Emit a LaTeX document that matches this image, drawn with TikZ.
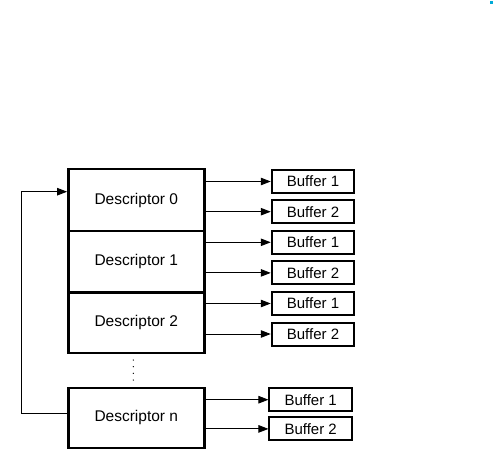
\documentclass[tikz,border=0pt]{standalone}
\usepackage{fontspec}
\setmainfont{Liberation Sans}
\usetikzlibrary{arrows.meta}
\definecolor{dotcyan}{RGB}{0,170,215}
\begin{document}
\begin{tikzpicture}[x=1pt,y=-1pt,
  desc/.style={draw,line width=2.4pt,minimum width=136pt,inner sep=0pt,font=\fontsize{15.5}{18}\selectfont},
  buf/.style={draw,line width=2pt,minimum width=82.5pt,minimum height=23pt,inner sep=0pt,font=\fontsize{15}{18}\selectfont},
  link/.style={line width=0.9pt,-{Triangle[length=10pt,width=7.5pt]}}
]
\useasboundingbox (0,0) rectangle (495,465);
\fill[dotcyan] (490,1.5) rectangle (493,4.5);
% descriptors
\node[desc,minimum height=61.4pt] (d0) at (136.3,200) {Descriptor 0};
\node[desc,minimum height=61.6pt] (d1) at (136.3,261.5) {Descriptor 1};
\node[desc,minimum height=60.4pt] (d2) at (136.3,322.5) {Descriptor 2};
\node[desc,minimum height=60pt] (dn) at (136.3,417.7) {Descriptor n};
% buffers
\node[buf] (b01) at (313,181.5) {Buffer 1};
\node[buf] (b02) at (313,211.7) {Buffer 2};
\node[buf] (b11) at (313,242.3) {Buffer 1};
\node[buf] (b12) at (313,272.9) {Buffer 2};
\node[buf] (b21) at (313,303.5) {Buffer 1};
\node[buf] (b22) at (313,334) {Buffer 2};
\node[buf] (bn1) at (310.7,399.7) {Buffer 1};
\node[buf] (bn2) at (310.7,428.9) {Buffer 2};
% arrows
\foreach \d/\b in {d0/b01,d0/b02,d1/b11,d1/b12,d2/b21,d2/b22,dn/bn1,dn/bn2}
  \draw[link] (\d.east |- \b.west) -- (\b.west);
% dots
\coordinate (dots) at (133.3,360);
\foreach \k in {0,6.7,13.3,20}
  \fill ([yshift=-\k pt]dots) circle (0.7pt);
% loop back
\coordinate (lb) at (21,413.3);
\coordinate (lt) at (21,191.7);
\draw[link] (dn.west |- lb) -- (lb) -- (lt) -- (d0.west |- lt);
\end{tikzpicture}
\end{document}
